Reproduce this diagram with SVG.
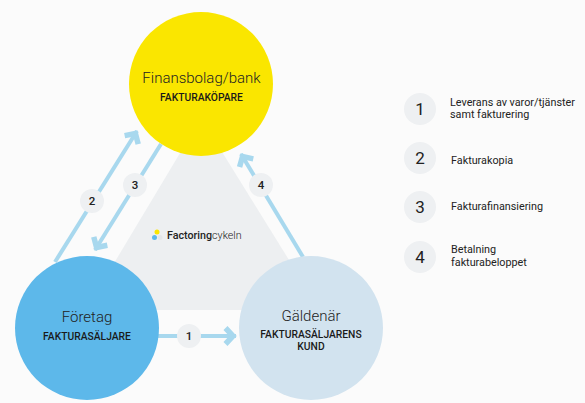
<svg xmlns="http://www.w3.org/2000/svg" width="585" height="403" viewBox="0 0 585 403">
<defs>
<marker id="chev" markerUnits="userSpaceOnUse" markerWidth="24" markerHeight="28" refX="19" refY="14" orient="auto" overflow="visible">
<path d="M8.500 6 L16 14 L8.500 22" fill="none" stroke="#a8d8ee" stroke-width="5.500"/>
</marker>
</defs>
<style>
text{font-family:Roboto,"Liberation Sans",sans-serif;fill:#222;text-anchor:middle}
.t{font-size:15px;font-weight:300}
.s{font-size:10.300px;font-weight:500;fill:#1a1a1a}
.b{fill:#eef0f2}
.n{font-size:11.5px;font-weight:500}
.ln{font-size:17px;font-weight:400}
.l{font-size:10.800px;text-anchor:start}
.c{fill:none;stroke:#a8d8ee;stroke-width:4;marker-end:url(#chev)}
</style>
<rect width="585" height="403" fill="#fbfbfb"/>
<polygon id="triangle" points="201,118 86,310 320,310" fill="#edeff1"/>
<g id="connectors">
<line class="c" x1="55" y1="262" x2="137" y2="131"/>
<line class="c" x1="161" y1="144" x2="95" y2="250"/>
<line class="c" x1="303" y1="257" x2="241" y2="154"/>
<line class="c" x1="155" y1="336" x2="236" y2="336"/>
</g>
<g id="badge-1"><circle class="b" cx="189" cy="336" r="12"/><text class="n" x="189" y="340">1</text></g>
<g id="badge-2"><circle class="b" cx="92" cy="201" r="12"/><text class="n" x="92" y="205">2</text></g>
<g id="badge-3"><circle class="b" cx="135" cy="185" r="12"/><text class="n" x="135" y="189">3</text></g>
<g id="badge-4"><circle class="b" cx="261" cy="185" r="12"/><text class="n" x="261" y="189">4</text></g>
<g id="finansbolag"><circle cx="201" cy="84" r="72" fill="#fae600"/>
<text class="t" x="201.500" y="83">Finansbolag/bank</text><text class="s" x="201.500" y="101">FAKTURAKÖPARE</text></g>
<g id="foretag"><circle cx="87" cy="328" r="72" fill="#5db8ea"/>
<text class="t" x="87" y="322">Företag</text><text class="s" x="87" y="340">FAKTURASÄLJARE</text></g>
<g id="galdenar"><circle cx="311" cy="328" r="72" fill="#d2e3ef"/>
<text class="t" x="311" y="321">Gäldenär</text><text class="s" x="311" y="338">FAKTURASÄLJARENS</text><text class="s" x="311" y="350">KUND</text></g>
<g id="logo">
<circle cx="157" cy="232" r="2.500" fill="#fae600"/><circle cx="154.500" cy="237.500" r="2.500" fill="#5db8ea"/><circle cx="160" cy="237.500" r="2.500" fill="#e3e6e9"/>
<text x="167" y="239" style="text-anchor:start;font-size:10.700px"><tspan font-weight="500">Factoring</tspan><tspan font-weight="300">cykeln</tspan></text>
</g>
<g id="legend-1"><circle class="b" cx="420" cy="109" r="16"/><text class="ln" x="420" y="115">1</text>
<text class="l" x="450" y="106">Leverans av varor/tjänster</text><text class="l" x="450" y="118">samt fakturering</text></g>
<g id="legend-2"><circle class="b" cx="420" cy="158" r="16"/><text class="ln" x="420" y="164">2</text>
<text class="l" x="451" y="164">Fakturakopia</text></g>
<g id="legend-3"><circle class="b" cx="420" cy="207" r="16"/><text class="ln" x="420" y="213">3</text>
<text class="l" x="451" y="210">Fakturafinansiering</text></g>
<g id="legend-4"><circle class="b" cx="420" cy="257" r="16"/><text class="ln" x="420" y="263">4</text>
<text class="l" x="451" y="253">Betalning</text><text class="l" x="451" y="266">fakturabeloppet</text></g>
</svg>
